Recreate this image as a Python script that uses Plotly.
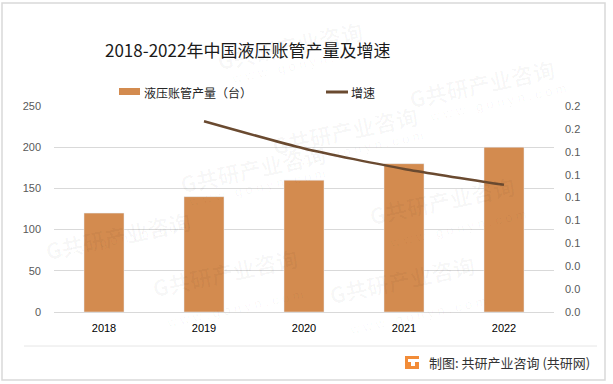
import plotly.graph_objects as go

years = ["2018", "2019", "2020", "2021", "2022"]
production = [120, 140, 160, 180, 200]
growth_years = ["2019", "2020", "2021", "2022"]
growth = [0.1667, 0.1429, 0.125, 0.1111]

title_text = "2018-2022年中国液压账管产量及增速"
bar_name = "液压账管产量（台）"
line_name = "增速"
source_text = "制图: 共研产业咨询 (共研网)"

W, H = 613, 384
L, R, T, B = 54, 554, 106, 312

def px(x):
    return (x - L) / (R - L)

def py(y):
    return (B - y) / (B - T)

BAR_COLOR = "#D38B4F"
LINE_COLOR = "#6A4A30"
CJK = "Noto Sans CJK SC"

fig = go.Figure()
fig.add_trace(go.Bar(x=years, y=production, name=bar_name, marker_color=BAR_COLOR,
                     width=0.4, showlegend=False))
fig.add_trace(go.Scatter(x=growth_years, y=growth, name=line_name, mode="lines",
                         line=dict(color=LINE_COLOR, width=2.5, shape="spline", smoothing=0.6),
                         yaxis="y2", showlegend=False))

shapes = []
annotations = []

# outer frame and separator
shapes.append(dict(type="rect", xref="paper", yref="paper", x0=px(2), x1=px(605), y0=py(3), y1=py(380),
                   line=dict(color="#D9D9D9", width=1.5), fillcolor="rgba(0,0,0,0)", layer="below"))
shapes.append(dict(type="line", xref="paper", yref="paper", x0=px(24), x1=px(597), y0=py(346), y1=py(346),
                   line=dict(color="#E6E6E6", width=1)))

# watermarks (faint)
wm = [(175, 135), (345, 97), (560, 50), (40, 235), (225, 305), (480, 312), (290, 12), (520, 200)]
for (x, y) in wm:
    annotations.append(dict(xref="paper", yref="paper", x=px(x), y=py(y), text="<b>G共研产业咨询</b>",
                            showarrow=False, textangle=-12, font=dict(family=CJK, size=22, color="rgba(0,0,0,0.03)")))
    annotations.append(dict(xref="paper", yref="paper", x=px(x + 10), y=py(y + 28), text="w w w . g o n y n . c o m",
                            showarrow=False, textangle=-12, font=dict(family="Liberation Sans", size=13, color="rgba(0,0,0,0.035)")))

# legend
shapes.append(dict(type="rect", xref="paper", yref="paper", x0=px(119), x1=px(140), y0=py(95), y1=py(88),
                   line=dict(width=0), fillcolor=BAR_COLOR))
annotations.append(dict(xref="paper", yref="paper", x=px(142), y=py(92), xanchor="left", yanchor="middle",
                        text=bar_name, showarrow=False, font=dict(family=CJK, size=12, color="#262626")))
shapes.append(dict(type="line", xref="paper", yref="paper", x0=px(326), x1=px(348), y0=py(92), y1=py(92),
                   line=dict(color=LINE_COLOR, width=3)))
annotations.append(dict(xref="paper", yref="paper", x=px(349), y=py(92), xanchor="left", yanchor="middle",
                        text=line_name, showarrow=False, font=dict(family=CJK, size=12, color="#262626")))

# title
annotations.append(dict(xref="paper", yref="paper", x=px(247), y=py(50), xanchor="center", yanchor="middle",
                        text=title_text, showarrow=False, font=dict(family=CJK, size=17, color="#1A1A1A")))

# footer logo and text
shapes.append(dict(type="rect", xref="paper", yref="paper", x0=px(405), x1=px(419), y0=py(369), y1=py(356),
                   line=dict(width=0), fillcolor="#F28C38"))
shapes.append(dict(type="rect", xref="paper", yref="paper", x0=px(408), x1=px(419), y0=py(362), y1=py(359),
                   line=dict(width=0), fillcolor="white"))
shapes.append(dict(type="rect", xref="paper", yref="paper", x0=px(411), x1=px(415), y0=py(366), y1=py(362),
                   line=dict(width=0), fillcolor="white"))
annotations.append(dict(xref="paper", yref="paper", x=px(427), y=py(362), xanchor="left", yanchor="middle",
                        text=source_text, showarrow=False, font=dict(family=CJK, size=13, color="#333333")))

fig.update_layout(
    width=W, height=H,
    margin=dict(l=L, r=W - R, t=T, b=H - B, pad=0),
    paper_bgcolor="white", plot_bgcolor="white",
    bargap=0.6,
    xaxis=dict(type="category", showgrid=False, showline=True, linecolor="#D9D9D9", linewidth=1,
               ticks="", tickfont=dict(family="Liberation Sans", size=11, color="#000000"),
               ticklabelstandoff=6),
    yaxis=dict(range=[0, 250], dtick=50, showgrid=True, gridcolor="#D9D9D9", gridwidth=1,
               zeroline=False, showline=False, ticks="",
               tickfont=dict(family="Liberation Sans", size=11, color="#595959"), ticklabelstandoff=12),
    yaxis2=dict(range=[0, 0.18], dtick=0.02, tickformat=".1f", overlaying="y", side="right",
                showgrid=False, zeroline=False, showline=False, ticks="",
                tickfont=dict(family="Liberation Sans", size=11, color="#595959"), ticklabelstandoff=10),
    shapes=shapes,
    annotations=annotations,
    showlegend=False,
)

fig.write_html("out.html", config={"displayModeBar": False},
               post_script="document.body.style.margin='0';document.body.style.overflow='hidden';")
